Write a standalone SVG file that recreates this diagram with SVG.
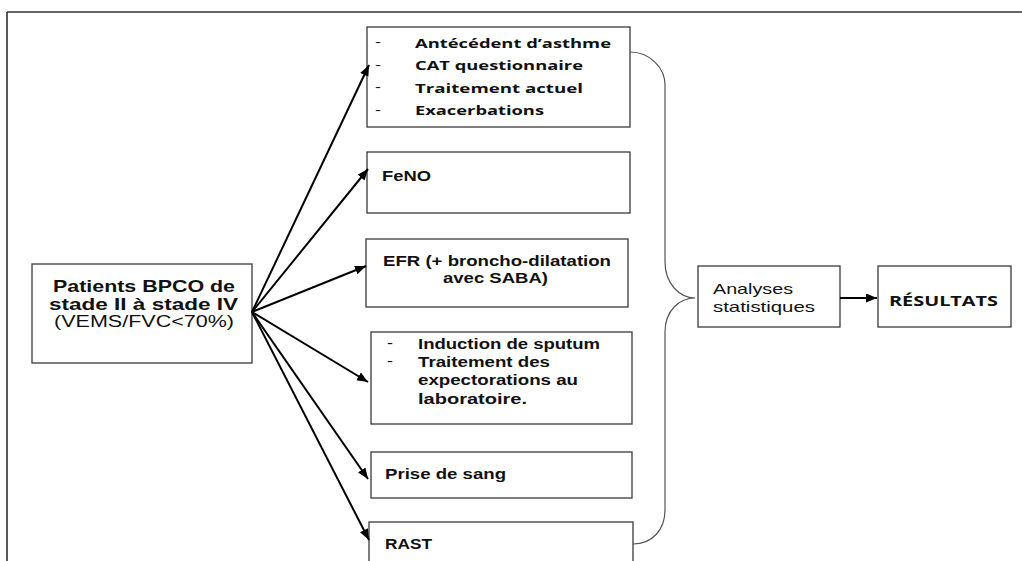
<svg xmlns="http://www.w3.org/2000/svg" width="1022" height="561" viewBox="0 0 1022 561">
<style>
.box{fill:#fff;stroke:#3a3a3a;stroke-width:1.3}
.a{font-family:"Liberation Sans",Arial,sans-serif;font-weight:bold;fill:#111}
.r{font-family:"Liberation Sans",Arial,sans-serif;font-weight:normal;fill:#111}
.c{font-family:"Open Sans","Noto Sans",sans-serif;font-weight:700;fill:#111}
.d{font-family:"Liberation Sans",Arial,sans-serif;font-weight:normal;fill:#111}
.arr{stroke:#000;stroke-width:2;fill:none;marker-end:url(#ah)}
.br{stroke:#555;stroke-width:1.2;fill:none}
</style>
<defs>
<marker id="ah" markerUnits="userSpaceOnUse" markerWidth="12" markerHeight="10" refX="11" refY="4.5" orient="auto">
<path d="M0,0 L11,4.5 L0,9 z" fill="#000"/>
</marker>
</defs>
<rect width="1022" height="561" fill="#fff"/>
<g id="frame">
<line x1="7" y1="12" x2="1022" y2="12" stroke="#666" stroke-width="2"/>
<line x1="7" y1="12" x2="7" y2="561" stroke="#222" stroke-width="1.5"/>
</g>
<g id="patients">
<rect class="box" x="32" y="264" width="220" height="99"/>
<text class="a" x="53" y="291.5" font-size="17" textLength="182" lengthAdjust="spacingAndGlyphs">Patients BPCO de</text>
<text class="a" x="49" y="310" font-size="17" textLength="189" lengthAdjust="spacingAndGlyphs">stade II à stade IV</text>
<text class="r" x="54" y="326.5" font-size="16" textLength="180" lengthAdjust="spacingAndGlyphs">(VEMS/FVC&lt;70%)</text>
</g>
<g id="questionnaire">
<rect class="box" x="367" y="27" width="263" height="100"/>
<text class="d" x="375" y="46" font-size="13" textLength="6" lengthAdjust="spacingAndGlyphs">-</text>
<text class="d" x="375" y="68.5" font-size="13" textLength="6" lengthAdjust="spacingAndGlyphs">-</text>
<text class="d" x="375" y="91" font-size="13" textLength="6" lengthAdjust="spacingAndGlyphs">-</text>
<text class="d" x="375" y="113.5" font-size="13" textLength="6" lengthAdjust="spacingAndGlyphs">-</text>
<text class="c" x="415" y="47.5" font-size="13" textLength="196" lengthAdjust="spacingAndGlyphs">Antécédent d’asthme</text>
<text class="c" x="415" y="70" font-size="13" textLength="168" lengthAdjust="spacingAndGlyphs">CAT questionnaire</text>
<text class="c" x="415" y="92.5" font-size="13" textLength="168" lengthAdjust="spacingAndGlyphs">Traitement actuel</text>
<text class="c" x="415" y="115" font-size="13" textLength="129" lengthAdjust="spacingAndGlyphs">Exacerbations</text>
</g>
<g id="feno">
<rect class="box" x="367" y="152" width="263" height="61"/>
<text class="a" x="382" y="180.5" font-size="15" textLength="49" lengthAdjust="spacingAndGlyphs">FeNO</text>
</g>
<g id="efr">
<rect class="box" x="366" y="239" width="262" height="68"/>
<text class="a" x="383" y="265.5" font-size="15" textLength="228" lengthAdjust="spacingAndGlyphs">EFR (+ broncho-dilatation</text>
<text class="a" x="443" y="282.5" font-size="15" textLength="105" lengthAdjust="spacingAndGlyphs">avec SABA)</text>
</g>
<g id="sputum">
<rect class="box" x="371" y="332" width="261" height="92"/>
<text class="d" x="387" y="348" font-size="14" textLength="6" lengthAdjust="spacingAndGlyphs">-</text>
<text class="d" x="387" y="365.5" font-size="14" textLength="6" lengthAdjust="spacingAndGlyphs">-</text>
<text class="a" x="418" y="349" font-size="14" textLength="182" lengthAdjust="spacingAndGlyphs">Induction de sputum</text>
<text class="a" x="418" y="366.5" font-size="14" textLength="132" lengthAdjust="spacingAndGlyphs">Traitement des</text>
<text class="a" x="418" y="385" font-size="14" textLength="160" lengthAdjust="spacingAndGlyphs">expectorations au</text>
<text class="a" x="418" y="403.5" font-size="14" textLength="109" lengthAdjust="spacingAndGlyphs">laboratoire.</text>
</g>
<g id="sang">
<rect class="box" x="371" y="452" width="261" height="46"/>
<text class="a" x="385" y="478.5" font-size="15" textLength="121" lengthAdjust="spacingAndGlyphs">Prise de sang</text>
</g>
<g id="rast">
<rect class="box" x="369" y="522" width="264" height="60"/>
<text class="a" x="385" y="548.5" font-size="15" textLength="47" lengthAdjust="spacingAndGlyphs">RAST</text>
</g>
<g id="analyses">
<rect class="box" x="698" y="266" width="142" height="61"/>
<text class="r" x="713" y="294" font-size="15" textLength="80" lengthAdjust="spacingAndGlyphs">Analyses</text>
<text class="r" x="713" y="311.5" font-size="15" textLength="102" lengthAdjust="spacingAndGlyphs">statistiques</text>
</g>
<g id="resultats">
<rect class="box" x="878" y="266" width="133" height="61"/>
<text class="c" x="889" y="306" font-size="14" textLength="109" lengthAdjust="spacingAndGlyphs">RÉSULTATS</text>
</g>
<g id="connectors">
<line class="arr" x1="252" y1="312" x2="369" y2="65"/>
<line class="arr" x1="252" y1="312" x2="368" y2="169"/>
<line class="arr" x1="252" y1="312" x2="366" y2="266"/>
<line class="arr" x1="252" y1="312" x2="368" y2="382"/>
<line class="arr" x1="252" y1="312" x2="368" y2="479"/>
<line class="arr" x1="252" y1="312" x2="369" y2="540"/>
<line class="arr" x1="840" y1="298" x2="877" y2="298"/>
<path class="br" d="M630,52 C650,52 665,68 665,85 L665,262 C665,284 680,298 695,298 C680,298 665,310 665,332 L665,510 C665,530 652,544 633,544"/>
</g>
</svg>
